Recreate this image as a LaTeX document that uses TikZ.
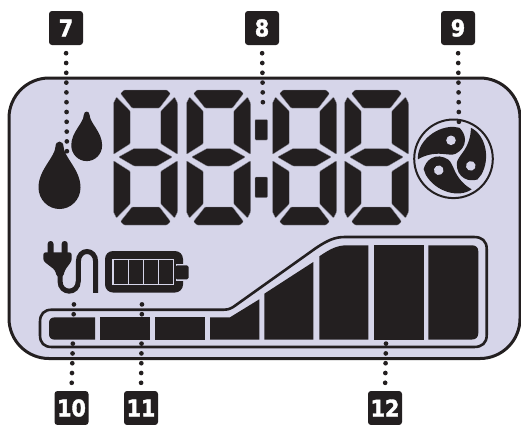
\documentclass[tikz,border=0pt]{standalone}
\usepackage{fontspec}
\newfontfamily\tagfont[FakeBold=1.6,FakeStretch=0.9]{DejaVu Sans Bold}
\usepackage{xcolor}
\usetikzlibrary{arrows.meta,positioning}
\definecolor{lcdbg}{HTML}{D6D5E9}
\definecolor{lcdink}{HTML}{231F20}
\definecolor{lcdedge}{HTML}{8E8D9C}

\begin{document}
\begin{tikzpicture}[
  x=1pt, y=-1pt,
  numtag/.style={fill=lcdink, rounded corners=3pt, minimum size=34pt, inner sep=0pt,
    text=white, font=\tagfont\fontsize{23}{23}\selectfont},
  dotline/.style={draw=lcdink, line width=4.7pt, line cap=round,
    dash pattern=on 0pt off 9.8pt, shorten <=8pt},
  seg/.style={fill=lcdink, draw=lcdedge, line width=0.3pt, rounded corners=0.8pt},
  cell/.style={fill=lcdink},
  barline/.style={draw=lcdink, line width=2.6pt},
  hole/.style={fill=lcdbg}
]
  \useasboundingbox (0,0) rectangle (521,424);

  % Display panel
  \draw[fill=lcdbg, draw=lcdink, line width=3pt, rounded corners=40pt]
    (9,78) rectangle (520,358.5);

  % Four digits
  \foreach \dx in {114,187,273,345} {
    \begin{scope}[shift={(\dx,90)}]
      \path[seg] (6.5,3.5) -- (10,0) -- (53,0) -- (56.5,3.5) -- (45.5,18) -- (18,18) -- cycle;
      \path[seg] (-0.5,13) -- (2.5,7) -- (16.2,21) -- (16.2,53.7) -- (-0.5,64.3) -- cycle;
      \path[seg] (63.5,13) -- (60.5,7) -- (46.8,21) -- (46.8,53.7) -- (63.5,64.3) -- cycle;
      \path[seg] (4.5,67) -- (20,58.5) -- (43,58.5) -- (58.5,67) -- (43,76) -- (20,76) -- cycle;
      \path[seg] (-0.5,122) -- (2.5,128) -- (16.2,114) -- (16.2,81.3) -- (-0.5,70.7) -- cycle;
      \path[seg] (63.5,122) -- (60.5,128) -- (46.8,114) -- (46.8,81.3) -- (63.5,70.7) -- cycle;
      \path[seg] (6.5,131.5) -- (10,135) -- (53,135) -- (56.5,131.5) -- (45.5,117) -- (18,117) -- cycle;
    \end{scope}
  }

  % Colon
  \path[seg] (255,119.5) rectangle (267.5,140);
  \path[seg] (255,177) rectangle (267.5,197.5);

  % Drops
  \foreach \cx/\ty/\sc in {59.5/141.5/1, 86.7/111.5/0.735} {
    \begin{scope}[shift={(\cx,\ty)}, scale=\sc]
      \fill[lcdink] (-4,5) .. controls (-4,-1.5) and (4,-1.5) .. (4,5)
        .. controls (4.5,16) and (21,28) .. (21,46)
        .. controls (21,58) and (11.5,67.5) .. (0,67.5)
        .. controls (-11.5,67.5) and (-21,58) .. (-21,46)
        .. controls (-21,28) and (-4.5,16) .. (-4,5) -- cycle;
    \end{scope}
  }

  % Fan
  \draw[draw=lcdink, line width=2pt] (453.5,158.8) circle (39.3pt);
  \foreach \ang in {0,-120,-240} {
    \begin{scope}[shift={(453.5,158.8)}, rotate=\ang]
      \fill[lcdink] (-35.5,0.5) .. controls (-28,-4) and (-20,-5.5) .. (-12,-5)
        .. controls (-6,-4.5) and (-1,-3.5) .. (2,-5)
        .. controls (8,-8) and (11.5,-13) .. (11.5,-19)
        .. controls (11.5,-24) and (9,-28) .. (6,-31)
        -- (0,-32) .. controls (-20,-32) and (-37,-15) .. (-35.5,0.5) -- cycle;
      \fill[hole] (-2.5,-18.5) circle (4.8pt);
    \end{scope}
  }

  % Plug and cord
  \fill[lcdink, rounded corners=2.8pt] (47.7,241) rectangle (53.5,258);
  \fill[lcdink, rounded corners=2.8pt] (61.7,241) rectangle (67.7,258);
  \fill[lcdink, rounded corners=2.5pt] (43.3,252.3) -- (71.7,252.3) -- (71.7,261)
    -- (65,270) -- (63,277) -- (57,277) -- (55,270) -- (43.3,261) -- cycle;
  \draw[lcdink, line width=5pt] (60,270) -- (60,281)
    .. controls (60,294.5) and (78.3,294.5) .. (78.3,281) -- (78.3,262)
    .. controls (78.3,248) and (95.7,248) .. (95.7,262) -- (95.7,292.8);

  % Battery
  \fill[lcdink, rounded corners=8pt] (105,251) rectangle (183,292.5);
  \fill[lcdbg] (176,263.6) rectangle (184,281);
  \fill[lcdink, rounded corners=1.5pt] (175.5,265.3) rectangle (188.5,279.3);
  \draw[lcdbg, line width=1.5pt] (112.8,259.3) rectangle (173.5,284.3);
  \foreach \bx in {128.5,143.5,158.5} {
    \draw[lcdbg, line width=1.6pt] (\bx,259.3) -- (\bx,284.3);
  }

  % Level bar outline
  \draw[barline] (52,309.7) -- (224,309.7)
    .. controls (229,309.7) and (232,308) .. (236,305) -- (316,248)
    .. controls (328,240) and (335,237) .. (345,237) -- (474,237)
    .. controls (482,237) and (486.7,241) .. (486.7,249) -- (486.7,335)
    .. controls (486.7,343) and (482,347) .. (474,347) -- (52,347)
    .. controls (44,347) and (40,343) .. (40,335) -- (40,322)
    .. controls (40,314) and (44,309.7) .. (52,309.7) -- cycle;

  % Level bar cells
  \fill[cell] (95,317.3) -- (55,317.3) .. controls (51,317.3) and (49,319.5) .. (49,323)
    -- (49,334) .. controls (49,337.5) and (51,339.7) .. (55,339.7) -- (95,339.7) -- cycle;
  \fill[cell] (100,317.3) rectangle (150,339.7);
  \fill[cell] (155,317.3) rectangle (205,339.7);
  \fill[cell] (210,317.3) -- (230,317.3) -- (259.3,299.3) -- (259.3,339.7) -- (210,339.7) -- cycle;
  \fill[cell] (264.3,293.7) -- (313.3,262) -- (313.3,339.5) -- (264.3,339.5) -- cycle;
  \fill[cell] (319.3,256.3) .. controls (330,249) and (337,245.3) .. (347,245.3)
    -- (368.3,245.3) -- (368.3,339.5) -- (319.3,339.5) -- cycle;
  \fill[cell] (374,245.3) rectangle (424,339.5);
  \fill[cell] (428.3,245.3) -- (472,245.3) .. controls (476,245.3) and (478.3,247.5) .. (478.3,251.5)
    -- (478.3,333) .. controls (478.3,337) and (476,339.5) .. (472,339.5) -- (428.3,339.5) -- cycle;

  % Number tags
  \node[numtag] (t7)  at (66,28)   {7};
  \node[numtag] (t8)  at (262,28)  {8};
  \node[numtag] (t9)  at (458,28)  {9};
  \node[numtag] (t10) at (71.5,408) {10};
  \node[numtag] (t11) at (141,408) {11};
  \node[numtag] (t12) at (385,408) {12};

  % Dotted leaders
  \coordinate (e7)  at (67,161);
  \coordinate (e8)  at (263,110);
  \coordinate (e9)  at (459,129);
  \coordinate (e10) at (74,302);
  \coordinate (e11) at (142,300);
  \coordinate (e12) at (386,343);
  \foreach \t/\e in {t7/e7,t8/e8,t9/e9} {
    \draw[dotline] (\t.south) -- (\e);
  }
  \foreach \t/\e in {t10/e10,t11/e11,t12/e12} {
    \draw[dotline] (\t.north) -- (\e);
  }
\end{tikzpicture}
\end{document}
